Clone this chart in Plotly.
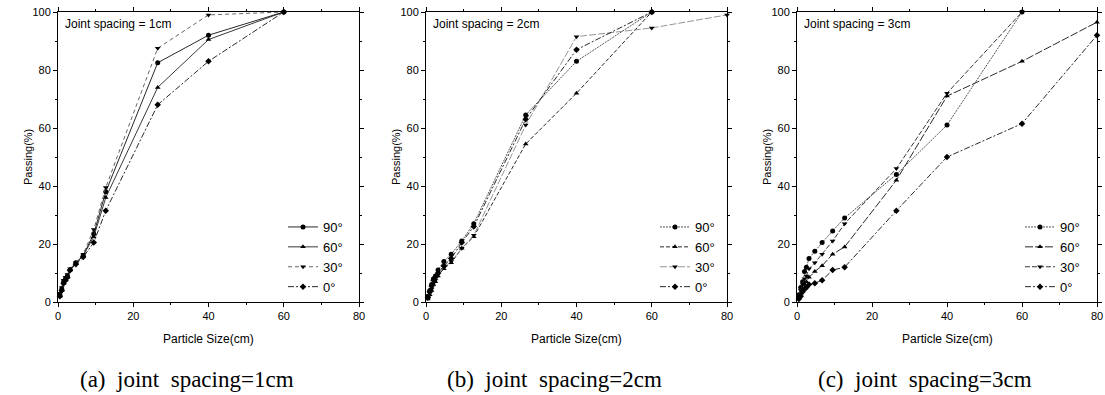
import plotly.graph_objects as go

W, H = 1105, 395

sizes = [0.5, 1, 1.5, 2, 2.5, 3.2, 4.75, 6.7, 9.5, 12.7, 26.5, 40, 60, 80]
angles = ["90°", "60°", "30°", "0°"]

p1_90 = [2.5, 4.5, 7, 8, 9, 11, 13.5, 16, 23.5, 38, 82.5, 92, 100]
p1_60 = [2, 4, 6.5, 7.5, 8.5, 11, 13.5, 16, 22.5, 36, 74, 90.5, 100]
p1_30 = [3, 5, 7.5, 8.5, 9.5, 11.5, 13.5, 16.5, 25, 39.5, 87.5, 99, 100]
p1_0 = [2, 4, 6.5, 7.5, 8.5, 11, 13, 15.5, 20.5, 31.5, 68, 83, 100]

p2_90 = [2, 4, 6, 8, 9, 11, 14, 16.5, 21, 27, 64.5, 83, 100]
p2_60 = [1, 2.5, 4, 6, 7, 9, 11.5, 13.5, 18.5, 22.5, 54.5, 72, 100]
p2_30 = [1.5, 3, 4.5, 6.5, 7.5, 9.5, 12, 14, 18.5, 23, 61, 91.5, 94.5, 99]
p2_0 = [1.5, 3.5, 5.5, 7.5, 8.5, 10, 12.5, 15, 20.5, 26, 63, 87, 100]

p3_90 = [2.5, 5, 7, 10.5, 12, 15, 17.5, 20.5, 24.5, 29, 44, 61, 100]
p3_60 = [1.5, 3, 4.5, 6, 7, 8.5, 10.5, 12.5, 16.5, 19, 42, 71, 83, 96.5]
p3_30 = [2, 4, 6, 8, 9, 11.5, 13.5, 16.5, 21, 27, 46, 72, 100]
p3_0 = [1, 2, 3.5, 4.5, 5, 6, 6.5, 7.5, 11, 12, 31.5, 50, 61.5, 92]

panels = [
    dict(series=[p1_90, p1_60, p1_30, p1_0], label="Joint spacing = 1cm",
         caption="(a)  joint  spacing=1cm", px=(58, 359), leg_x=283,
         dashes=["solid", "solid", "4px,3px", "6px,2px,2px,2px"],
         colors=["#111", "#222", "#555", "#111"]),
    dict(series=[p2_90, p2_60, p2_30, p2_0], label="Joint spacing = 2cm",
         caption="(b)  joint  spacing=2cm", px=(426, 727), leg_x=655,
         dashes=["2px,1px", "4px,2px", "7px,2px", "6px,2px,2px,2px"],
         colors=["#444", "#111", "#888", "#111"]),
    dict(series=[p3_90, p3_60, p3_30, p3_0], label="Joint spacing = 3cm",
         caption="(c)  joint  spacing=3cm", px=(797, 1097), leg_x=1020,
         dashes=["2px,1px", "8px,2px", "5px,2px", "6px,2px,2px,2px"],
         colors=["#444", "#111", "#222", "#111"]),
]
symbols = ["circle", "triangle-up", "triangle-down", "diamond"]

y_top, y_bot = 12, 302
ydom = [1 - y_bot / H, 1 - y_top / H]
SANS = "Arial, Liberation Sans, sans-serif"

fig = go.Figure()
annotations = []
layout = {}
for i, p in enumerate(panels):
    n = i + 1
    xa = "x" if n == 1 else f"x{n}"
    ya = "y" if n == 1 else f"y{n}"
    leg = "legend" if n == 1 else f"legend{n}"
    for k, vals in enumerate(p["series"]):
        fig.add_trace(go.Scatter(
            x=sizes[:len(vals)], y=vals, mode="lines+markers", name=angles[k],
            xaxis=xa, yaxis=ya, legend=leg, cliponaxis=False,
            line=dict(color=p["colors"][k], width=0.9, dash=p["dashes"][k]),
            marker=dict(symbol=symbols[k], size=5, color="black"),
        ))
    x0, x1 = p["px"]
    axis_common = dict(
        showline=True, linecolor="black", linewidth=1, mirror="allticks",
        ticks="outside", ticklen=4, tickwidth=1, tickcolor="black",
        showgrid=False, zeroline=False,
        tickfont=dict(family=SANS, size=11, color="black"),
        minor=dict(ticks="outside", ticklen=2, dtick=10, tickcolor="black"),
    )
    layout[f"xaxis{'' if n == 1 else n}"] = dict(
        axis_common, domain=[x0 / W, x1 / W], range=[0, 80], dtick=20,
        anchor=ya, fixedrange=True)
    layout[f"yaxis{'' if n == 1 else n}"] = dict(
        axis_common, domain=ydom, range=[0, 100], dtick=20,
        anchor=xa, fixedrange=True)
    layout[leg] = dict(
        x=p["leg_x"] / W, y=1 - 212 / H, xanchor="left", yanchor="top",
        bgcolor="rgba(0,0,0,0)", font=dict(family=SANS, size=13, color="black"),
        itemwidth=30, tracegroupgap=0, traceorder="normal",
    )
    annotations.append(dict(
        x=(x0 + 5) / W, y=1 - 24 / H, xref="paper", yref="paper",
        text=p["label"], showarrow=False, xanchor="left", yanchor="middle",
        font=dict(family=SANS, size=12, color="black")))
    annotations.append(dict(
        x=(x0 + x1) / 2 / W, y=1 - 339 / H, xref="paper", yref="paper",
        text="Particle Size(cm)", showarrow=False, xanchor="center", yanchor="middle",
        font=dict(family=SANS, size=12, color="black")))
    annotations.append(dict(
        x=(x0 - 30) / W, y=1 - 157 / H, xref="paper", yref="paper",
        text="Passing(%)", showarrow=False, textangle=-90, xanchor="center", yanchor="middle",
        font=dict(family=SANS, size=11, color="black")))
    annotations.append(dict(
        x=(x0 + x1) / 2 / W - 22 / W, y=1 - 379 / H, xref="paper", yref="paper",
        text=p["caption"], showarrow=False, xanchor="center", yanchor="middle",
        font=dict(family="Liberation Serif, Times New Roman, serif", size=23, color="black")))

fig.update_layout(
    width=W, height=H, margin=dict(l=0, r=0, t=0, b=0, autoexpand=False),
    paper_bgcolor="white", plot_bgcolor="white",
    annotations=annotations, **layout,
)
fig.write_html("out.html", config={"displayModeBar": False},
               post_script="document.body.style.margin='0px';document.body.style.overflow='hidden';")
